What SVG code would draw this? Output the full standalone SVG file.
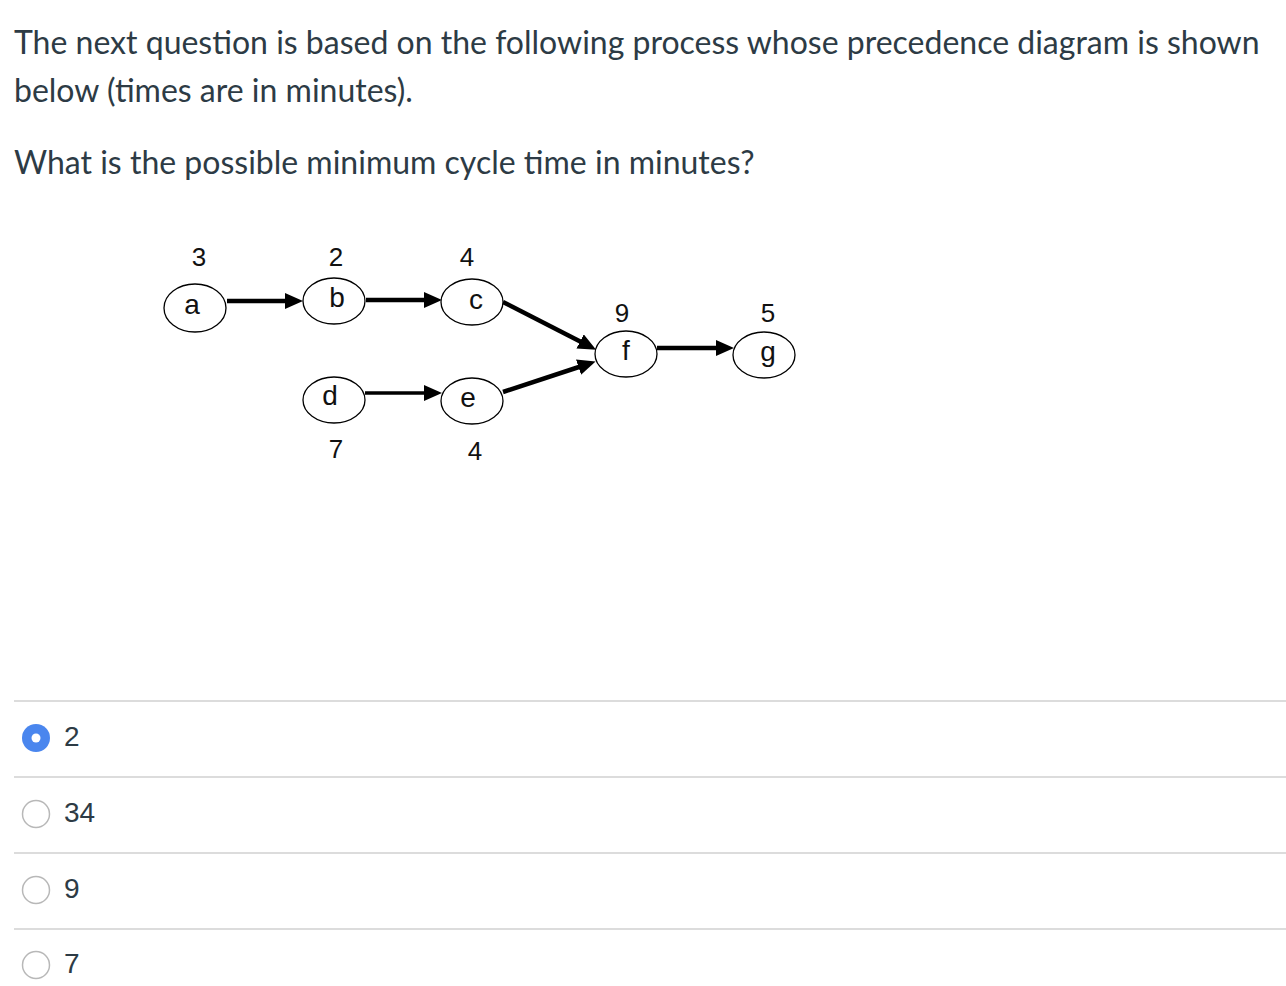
<svg xmlns="http://www.w3.org/2000/svg" width="1286" height="986" viewBox="0 0 1286 986">
<defs>
<style>
.q{font-family:Lato,"Open Sans",sans-serif;font-size:32px;fill:#2D3B45}
.opt{font-family:"Liberation Sans",Arial,sans-serif;font-size:28px;fill:#2D3B45}
.lbl{font-family:"Liberation Sans",Arial,sans-serif;font-size:26px;fill:#111;text-anchor:middle}
.let{font-family:"Liberation Sans",Arial,sans-serif;font-size:28px;fill:#111;text-anchor:middle}
.node{fill:#fff;stroke:#000;stroke-width:1.3}
.edge{stroke:#000;stroke-width:4.5;fill:none;marker-end:url(#ah)}
.sep{stroke:#dcdcdc;stroke-width:2}
.radio{fill:#fff;stroke:#b8b8b8;stroke-width:1.5}
</style>
<marker id="ah" markerUnits="userSpaceOnUse" markerWidth="20" markerHeight="18" refX="10" refY="8" orient="auto">
<path d="M0,0 L18,8 L0,16 z" fill="#000"/>
</marker>
</defs>
<rect width="1286" height="986" fill="#fff"/>
<text class="q" x="14" y="54">The next question is based on the following process whose precedence diagram is shown</text>
<text class="q" x="14" y="102">below (times are in minutes).</text>
<text class="q" x="14" y="174">What is the possible minimum cycle time in minutes?</text>

<g id="connectors">
<line class="edge" x1="227" y1="301" x2="295" y2="301"/>
<line class="edge" x1="366" y1="300" x2="434" y2="300"/>
<line class="edge" x1="365" y1="393" x2="434" y2="393" style="stroke-width:3.5"/>
<line class="edge" x1="503" y1="302" x2="589" y2="346"/>
<line class="edge" x1="503" y1="392" x2="588" y2="364"/>
<line class="edge" x1="657" y1="348" x2="726" y2="348"/>
</g>

<g id="node-a"><ellipse class="node" cx="195" cy="308" rx="31" ry="24"/><text class="let" x="192" y="314">a</text><text class="lbl" x="199" y="266">3</text></g>
<g id="node-b"><ellipse class="node" cx="334" cy="301" rx="31" ry="23"/><text class="let" x="337" y="307">b</text><text class="lbl" x="336" y="266">2</text></g>
<g id="node-c"><ellipse class="node" cx="472" cy="302" rx="31" ry="23"/><text class="let" x="476" y="309">c</text><text class="lbl" x="467" y="266">4</text></g>
<g id="node-d"><ellipse class="node" cx="334" cy="400" rx="31" ry="23"/><text class="let" x="330" y="405">d</text><text class="lbl" x="336" y="458">7</text></g>
<g id="node-e"><ellipse class="node" cx="472" cy="401" rx="31" ry="23"/><text class="let" x="468" y="407">e</text><text class="lbl" x="475" y="460">4</text></g>
<g id="node-f"><ellipse class="node" cx="626" cy="354" rx="31" ry="23"/><text class="let" x="626" y="360">f</text><text class="lbl" x="622" y="322">9</text></g>
<g id="node-g"><ellipse class="node" cx="764" cy="355" rx="31" ry="23"/><text class="let" x="768" y="361">g</text><text class="lbl" x="768" y="322">5</text></g>

<g id="options">
<line class="sep" x1="14" y1="701" x2="1286" y2="701"/>
<line class="sep" x1="14" y1="777" x2="1286" y2="777"/>
<line class="sep" x1="14" y1="853" x2="1286" y2="853"/>
<line class="sep" x1="14" y1="929" x2="1286" y2="929"/>
<circle cx="36" cy="738" r="14" fill="#4A86EE"/>
<circle cx="36" cy="738" r="4.5" fill="#fff"/>
<text class="opt" x="64" y="746">2</text>
<circle class="radio" cx="36" cy="814" r="13.5"/>
<text class="opt" x="64" y="822">34</text>
<circle class="radio" cx="36" cy="890" r="13.5"/>
<text class="opt" x="64" y="898">9</text>
<circle class="radio" cx="36" cy="965" r="13.5"/>
<text class="opt" x="64" y="973">7</text>
</g>
</svg>
